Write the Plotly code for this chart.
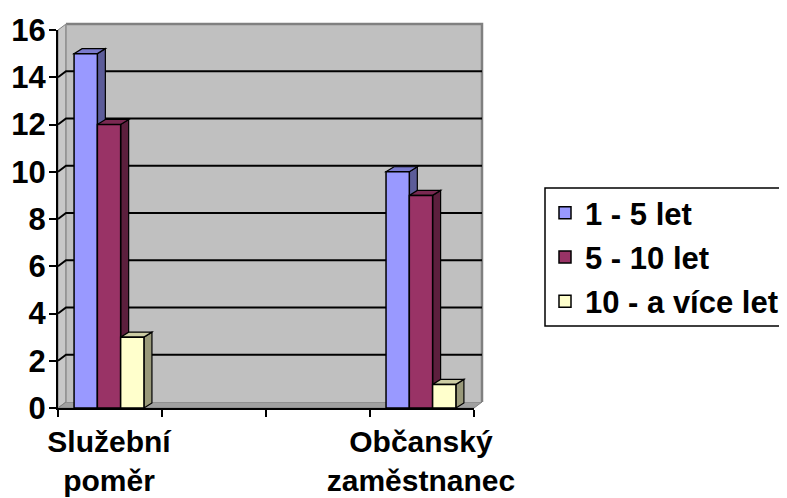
import plotly.graph_objects as go

# ---- data ----
categories = ["Služební<br>poměr", "Občanský<br>zaměstnanec"]
series_names = ["1 - 5 let", "5 - 10 let", "10 - a více let"]
s_1_5 = [15, 10]
s_5_10 = [12, 9]
s_10_plus = [3, 1]
y_ticks = [0, 2, 4, 6, 8, 10, 12, 14, 16]

series_values = [s_1_5, s_5_10, s_10_plus]
front_colors = ["#9999FF", "#993366", "#FFFFCC"]
top_colors = ["#7A7ACC", "#7A2952", "#CCCCA3"]
side_colors = ["#5C5C99", "#5C1F3D", "#99997A"]

# ---- layout geometry (page has an 8px body margin) ----
OFF = 8
W, H = 787, 498
ML, MT = 58 - OFF, 30 - OFF
PW, PH = 474 - 58, 408 - 30
MR, MB = W - ML - PW, H - MT - PH
X0, X1 = -0.1635, 1.17
Y0, Y1 = 0, 16
BARGAP = 0.776
FAM = "Liberation Sans, Arial, sans-serif"
XFONT = dict(family=FAM, size=30, color="black", weight="bold")
YFONT = dict(family=FAM, size=31, color="black", weight="bold")

xs = list(range(len(categories)))

fig = go.Figure()
for name, vals, col in zip(series_names, series_values, front_colors):
    fig.add_trace(go.Bar(
        x=xs, y=vals, name=name, legendgroup=name,
        marker=dict(color=col, line=dict(color="black", width=1.5)),
    ))

shapes = []
wdx, wdy = 8 / PW, 6 / PH
shapes.append(dict(type="path", xref="paper", yref="paper", layer="below",
                   path=f"M 0,0 L 0,1 L {wdx},{1+wdy} L {wdx},{wdy} Z",
                   fillcolor="#C8C8C8", line=dict(color="#808080", width=1)))
shapes.append(dict(type="path", xref="paper", yref="paper", layer="below",
                   path=f"M 0,0 L 1,0 L {1+wdx},{wdy} L {wdx},{wdy} Z",
                   fillcolor="#A0A0A0", line=dict(color="#808080", width=1)))
shapes.append(dict(type="rect", xref="paper", yref="paper", layer="below",
                   x0=wdx, x1=1 + wdx, y0=wdy, y1=1 + wdy,
                   fillcolor="#C0C0C0", line=dict(width=0)))
shapes.append(dict(type="path", xref="paper", yref="paper", layer="below",
                   path=f"M {wdx},{1+wdy} L {1+wdx},{1+wdy} L {1+wdx},{wdy}",
                   line=dict(color="#808080", width=2.5)))
shapes.append(dict(type="path", xref="paper", yref="paper", layer="below",
                   path=f"M {wdx},{1+wdy} L {wdx},{wdy}",
                   line=dict(color="#909090", width=1.5)))
for v in y_ticks[1:-1]:
    pv = (v - Y0) / (Y1 - Y0)
    shapes.append(dict(type="path", xref="paper", yref="paper", layer="below",
                       path=f"M 0,{pv} L {wdx},{pv+wdy} L {1+wdx},{pv+wdy}",
                       line=dict(color="black", width=2)))

bdx = 8 * (X1 - X0) / PW
bdy = 5 * (Y1 - Y0) / PH
group_w = 1 - BARGAP
bar_w = group_w / len(series_values)
for ci, xc in enumerate(xs):
    for si, vals in enumerate(series_values):
        left = xc - group_w / 2 + si * bar_w
        right = left + bar_w
        top = vals[ci]
        shapes.append(dict(type="path", xref="x", yref="y", layer="below",
                           path=f"M {right},0 L {right},{top} L {right+bdx},{top+bdy} L {right+bdx},{bdy} Z",
                           fillcolor=side_colors[si], line=dict(color="black", width=1.2)))
        shapes.append(dict(type="path", xref="x", yref="y", layer="below",
                           path=f"M {left},{top} L {right},{top} L {right+bdx},{top+bdy} L {left+bdx},{top+bdy} Z",
                           fillcolor=top_colors[si], line=dict(color="black", width=1.2)))

# legend frame (extends past the right edge like the original)
shapes.append(dict(type="rect", xref="paper", yref="paper", layer="above",
                   x0=(545 - 58) / PW, x1=(810 - 58) / PW,
                   y0=(408 - 326) / PH, y1=(408 - 188) / PH,
                   fillcolor="white", line=dict(color="black", width=1.5)))

fig.update_layout(
    width=W, height=H,
    margin=dict(l=ML, r=MR, t=MT, b=MB, autoexpand=False),
    paper_bgcolor="white", plot_bgcolor="rgba(0,0,0,0)",
    barmode="group", bargap=BARGAP, bargroupgap=0,
    shapes=shapes,
    font=XFONT,
    showlegend=True,
    legend=dict(x=(545 - 58) / PW, xanchor="left", y=(408 - 257) / PH, yanchor="middle",
                bgcolor="rgba(0,0,0,0)", borderwidth=0,
                font=dict(family=FAM, size=31, color="black", weight="bold"),
                traceorder="grouped", tracegroupgap=1, itemwidth=30),
    xaxis=dict(range=[X0, X1], tickvals=xs, ticktext=categories, ticks="", showgrid=False,
               zeroline=False, showline=True, linecolor="black", linewidth=2, automargin=False,
               tickfont=XFONT, ticklabelstandoff=6,
               minor=dict(ticks="outside", ticklen=7, tickwidth=2, tickcolor="black",
                          tick0=X0, dtick=(X1 - X0) / 4, showgrid=False)),
    yaxis=dict(range=[Y0, Y1], tickvals=y_ticks, ticks="outside", ticklen=7, tickwidth=2,
               tickcolor="black", showgrid=False, zeroline=False, showline=True, automargin=False,
               linecolor="black", linewidth=2, tickfont=YFONT, ticklabelstandoff=-3),
)

fig.write_html("out.html")
